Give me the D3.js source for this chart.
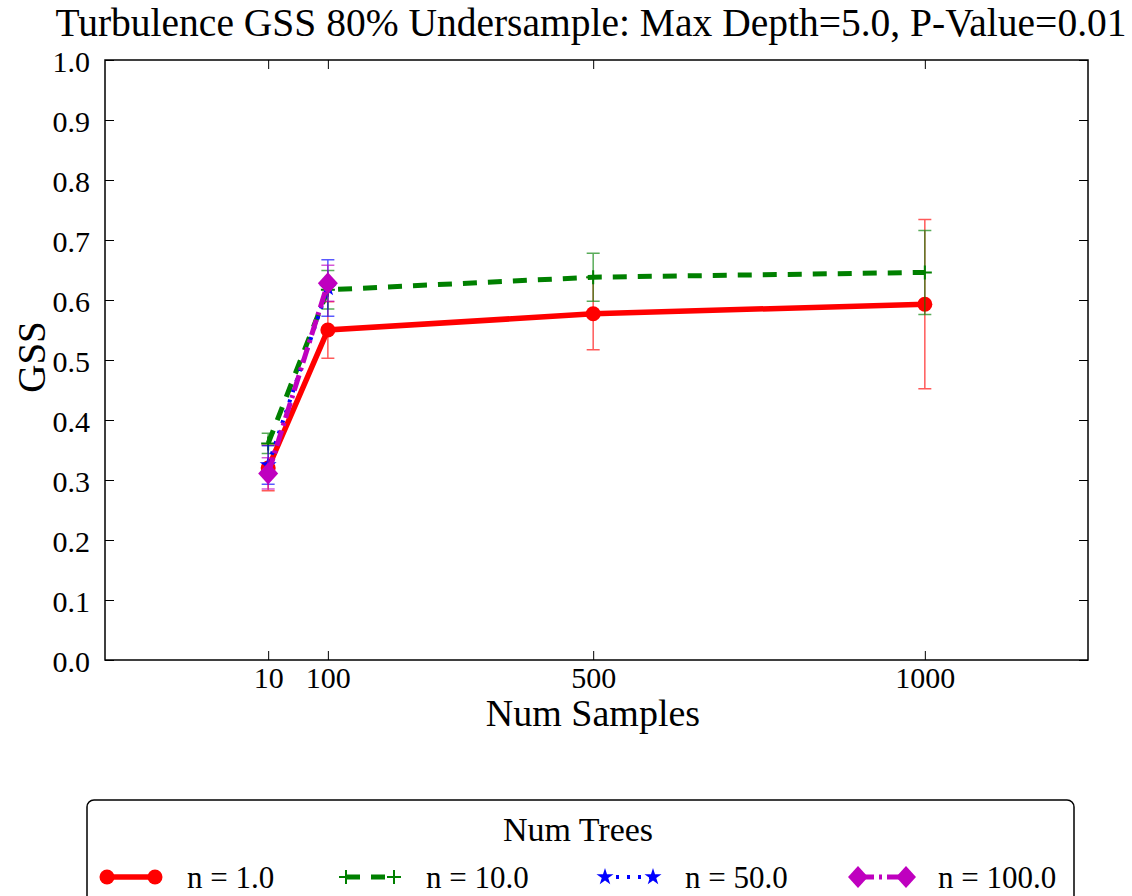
<!DOCTYPE html>
<html><head><meta charset="utf-8">
<script src="https://cdn.jsdelivr.net/npm/d3@7"></script>
<style>body{margin:0;background:#fff}svg{display:block}text{font-family:"Liberation Serif","DejaVu Serif",serif;fill:#000}</style>
</head><body><svg id="c" width="1132" height="896"></svg>
<script>
const samples = [10, 100, 500, 1000];
const xTickValues = [10, 100, 500, 1000];
const yTickValues = [0,0.1,0.2,0.3,0.4,0.5,0.6,0.7,0.8,0.9,1.0];
const seriesNames = ["n = 1.0", "n = 10.0", "n = 50.0", "n = 100.0"];
const gssN1 = [0.320, 0.550, 0.577, 0.593];
const errN1 = [0.038, 0.047, 0.060, 0.141];
const gssN10 = [0.361, 0.617, 0.638, 0.646];
const errN10 = [0.017, 0.032, 0.040, 0.070];
const gssN50 = [0.325, 0.620];
const errN50 = [0.032, 0.047];
const gssN100 = [0.311, 0.628];
const errN100 = [0.026, 0.030];

const series = [
  {name: seriesNames[0], vals: gssN1, errs: errN1, color: "#ff0000", dash: null, width: 5.5, marker: "circle"},
  {name: seriesNames[1], vals: gssN10, errs: errN10, color: "#008000", dash: "14,11", width: 5, marker: "plus"},
  {name: seriesNames[2], vals: gssN50, errs: errN50, color: "#0000ff", dash: "3,8", width: 4, marker: "star"},
  {name: seriesNames[3], vals: gssN100, errs: errN100, color: "#bf00bf", dash: "16,5,3,5", width: 5, marker: "diamond"}
];

const svg = d3.select("#c");
const L = 105, R = 1088, T = 60, B = 660;
const x = d3.scaleLinear().domain([-236, 1246]).range([L, R]);
const y = d3.scaleLinear().domain([0, 1]).range([B, T]);

// title
svg.append("text").attr("x", 591).attr("y", 36).attr("text-anchor", "middle")
  .attr("font-size", 39.5).text("Turbulence GSS 80% Undersample: Max Depth=5.0, P-Value=0.01");

// axes (ticks inward on all sides)
const tk = 9;
const gB = svg.append("g").attr("transform", `translate(0,${B})`)
  .call(d3.axisBottom(x).tickValues(xTickValues).tickSize(-tk).tickPadding(7).tickFormat(d3.format("d")));
const gT = svg.append("g").attr("transform", `translate(0,${T})`)
  .call(d3.axisTop(x).tickValues(xTickValues).tickSize(-tk).tickFormat(""));
const gL = svg.append("g").attr("transform", `translate(${L},0)`)
  .call(d3.axisLeft(y).tickValues(yTickValues).tickSize(-tk).tickPadding(15).tickFormat(d3.format(".1f")));
const gR = svg.append("g").attr("transform", `translate(${R},0)`)
  .call(d3.axisRight(y).tickValues(yTickValues).tickSize(-tk).tickFormat(""));
[gB, gT, gL, gR].forEach(g => {
  g.select(".domain").remove();
  g.selectAll(".tick line").attr("stroke", "#000").attr("stroke-width", 1);
  g.selectAll(".tick text").attr("font-size", 30).attr("fill", "#000")
    .style("font-family", '"Liberation Serif", serif');
});
gB.selectAll(".tick text").attr("dy", "0.71em");
gL.selectAll(".tick text").attr("dy", "0.38em");
svg.append("rect").attr("x", L).attr("y", T).attr("width", R - L).attr("height", B - T)
  .attr("fill", "none").attr("stroke", "#000").attr("stroke-width", 1.5);

// axis labels
svg.append("text").attr("x", 593).attr("y", 726).attr("text-anchor", "middle")
  .attr("font-size", 38).text("Num Samples");
svg.append("text").attr("transform", `translate(45,357) rotate(-90)`).attr("text-anchor", "middle")
  .attr("font-size", 39).text("GSS");

function drawMarker(g, type, cx, cy, color) {
  if (type === "circle") {
    g.append("circle").attr("cx", cx).attr("cy", cy).attr("r", 7.5).attr("fill", color);
  } else if (type === "plus") {
    g.append("path").attr("d", `M${cx-7},${cy}H${cx+7}M${cx},${cy-7}V${cy+7}`)
      .attr("stroke", color).attr("stroke-width", 2);
  } else if (type === "star") {
    g.append("path").attr("d", d3.symbol(d3.symbolStar, 90)()).attr("transform", `translate(${cx},${cy})`)
      .attr("fill", color);
  } else if (type === "diamond") {
    g.append("path").attr("d", `M${cx},${cy-11}L${cx+10},${cy}L${cx},${cy+11}L${cx-10},${cy}Z`)
      .attr("fill", color);
  }
}

const plot = svg.append("g");
series.forEach(s => {
  const pts = s.vals.map((v, i) => ({x: samples[i], v, e: s.errs[i]}));
  const g = plot.append("g");
  pts.forEach(p => {
    const px = x(p.x), y0 = y(p.v - p.e), y1 = y(p.v + p.e);
    g.append("path").attr("d", `M${px},${y0}V${y1}M${px-6.5},${y0}H${px+6.5}M${px-6.5},${y1}H${px+6.5}`)
      .attr("stroke", s.color).attr("stroke-width", 1.5).attr("opacity", 0.65).attr("fill", "none");
  });
  const line = d3.line().x(d => x(d.x)).y(d => y(d.v));
  g.append("path").attr("d", line(pts)).attr("fill", "none").attr("stroke", s.color)
    .attr("stroke-width", s.width).attr("stroke-dasharray", s.dash);
  pts.forEach(p => drawMarker(g, s.marker, x(p.x), y(p.v), s.color));
});

// legend
const lg = svg.append("g");
lg.append("rect").attr("x", 87).attr("y", 800).attr("width", 987).attr("height", 130).attr("rx", 7)
  .attr("fill", "#fff").attr("stroke", "#000").attr("stroke-width", 1.5);
lg.append("text").attr("x", 578).attr("y", 841).attr("text-anchor", "middle").attr("font-size", 34).text("Num Trees");
const legX = [107, 346, 605, 858];
series.forEach((s, i) => {
  const x0 = legX[i], x1 = x0 + 48, ly = 877;
  lg.append("path").attr("d", `M${x0},${ly}H${x1}`).attr("stroke", s.color).attr("stroke-width", s.width)
    .attr("stroke-dasharray", s.dash);
  drawMarker(lg, s.marker, x0, ly, s.color);
  drawMarker(lg, s.marker, x1, ly, s.color);
  lg.append("text").attr("x", x0 + 80).attr("y", ly + 11).attr("font-size", 31).text(s.name);
});
</script></body></html>
